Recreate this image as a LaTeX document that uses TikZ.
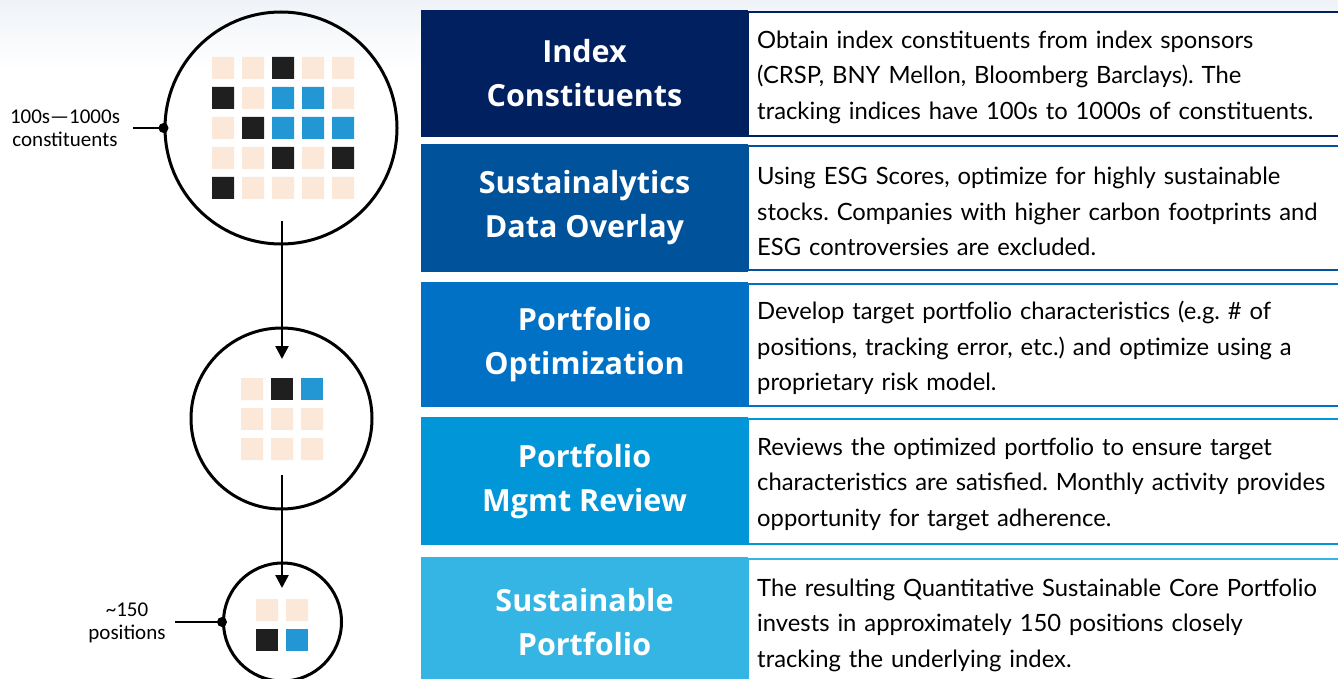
\documentclass[tikz,border=0pt]{standalone}
\usepackage{fontspec}
\setmainfont{Carlito}
\newfontfamily\descfont{Lato}
\newfontfamily\ttlfont{Open Sans}
\usetikzlibrary{arrows.meta}
\frenchspacing

\definecolor{stepA}{HTML}{002060}
\definecolor{stepB}{HTML}{00529B}
\definecolor{stepC}{HTML}{0071C5}
\definecolor{stepD}{HTML}{0096D8}
\definecolor{stepE}{HTML}{35B5E3}
\definecolor{sqlight}{HTML}{FBE8D8}
\definecolor{sqdark}{HTML}{1F1F1F}
\definecolor{sqblue}{HTML}{2397D4}
\definecolor{bgtop}{HTML}{EFF3F8}

\begin{document}
\begin{tikzpicture}[x=1pt,y=1pt,yscale=-1,xscale=1,
    ring/.style={circle,draw=black,line width=3pt,inner sep=0pt},
    flow/.style={line width=2.4pt,-{Triangle[length=13pt,width=13pt]}},
    lead/.style={line width=2.4pt},
    tagtext/.style={align=center,font=\fontsize{21}{23}\selectfont},
    ttlbox/.style={rectangle,inner sep=0pt,minimum width=327pt,text=white,align=center,font=\ttlfont\fontsize{30.5}{44}\bfseries\selectfont},
    descline/.style={fill=white,line width=2pt},
    desctext/.style={anchor=west,inner sep=0pt,text width=600pt,align=left,font=\descfont\fontsize{23.8}{35.5}\selectfont}]
        \useasboundingbox (0,0) rectangle (1338,679);
        \shade[top color=bgtop,bottom color=white] (0,0) rectangle (1338,70);

        %Shape: Circle
        \node[ring,minimum size=232pt] (big) at (281,128) {};
        \fill[sqlight] (212,57) rectangle +(22,22) (242,57) rectangle +(22,22) (302,57) rectangle +(22,22) (332,57) rectangle +(22,22)
            (242,87) rectangle +(22,22) (332,87) rectangle +(22,22) (212,117) rectangle +(22,22) (212,147) rectangle +(22,22)
            (242,147) rectangle +(22,22) (302,147) rectangle +(22,22) (242,177) rectangle +(22,22) (272,177) rectangle +(22,22)
            (302,177) rectangle +(22,22) (332,177) rectangle +(22,22);
        \fill[sqdark] (272,57) rectangle +(22,22) (212,87) rectangle +(22,22) (242,117) rectangle +(22,22)
            (272,147) rectangle +(22,22) (332,147) rectangle +(22,22) (212,177) rectangle +(22,22);
        \fill[sqblue] (272,87) rectangle +(22,22) (302,87) rectangle +(22,22) (272,117) rectangle +(22,22)
            (302,117) rectangle +(22,22) (332,117) rectangle +(22,22);

        %Shape: Circle
        \node[ring,minimum size=181pt] (mid) at (281.5,418.5) {};
        \fill[sqlight] (241,378) rectangle +(22,22) (241,408) rectangle +(22,22) (271,408) rectangle +(22,22) (301,408) rectangle +(22,22)
            (241,438) rectangle +(22,22) (271,438) rectangle +(22,22) (301,438) rectangle +(22,22);
        \fill[sqdark] (271,378) rectangle +(22,22);
        \fill[sqblue] (301,378) rectangle +(22,22);

        %Shape: Circle
        \node[ring,minimum size=118pt] (small) at (282.5,622) {};
        \fill[sqlight] (256,599) rectangle +(22,22) (286,599) rectangle +(22,22);
        \fill[sqdark] (256,629) rectangle +(22,22);
        \fill[sqblue] (286,629) rectangle +(22,22);

        %Straight Lines
        \coordinate (cutA) at (282,221);
        \coordinate (cutB) at (282,359);
        \coordinate (cutC) at (282,475);
        \coordinate (cutD) at (282,588);
        \draw[flow] (cutA) -- (cutB);
        \draw[flow] (cutC) -- (cutD);

        %Text
        \node[tagtext] (bigtag) at (65,128) {100s—1000s\\constituents};
        \coordinate (bigend) at (133,128);
        \draw[lead] (bigend) -- (big.west);
        \fill (big.west) circle (5);
        \node[tagtext] (smalltag) at (127,623) {\textasciitilde150\\positions};
        \coordinate (smallend) at (175,622);
        \draw[lead] (smallend) -- (small.west);
        \fill (small.west) circle (5);

        %Shape: Rectangle
        \node[ttlbox,fill=stepA,minimum height=127pt] (idxttl) at (584.5,73.5) {Index\\Constituents};
        \draw[descline,draw=stepA] (748,12) rectangle (1345,136);
        \node[desctext] (idxdesc) at (757,77) {Obtain index constituents from index sponsors\\(CRSP, BNY Mellon, Bloomberg Barclays). The\\tracking indices have 100s to 1000s of constituents.};

        \node[ttlbox,fill=stepB,minimum height=128pt] (esgttl) at (584.5,208) {Sustainalytics\\Data Overlay};
        \draw[descline,draw=stepB] (748,146) rectangle (1345,270);
        \node[desctext] (esgdesc) at (757,211.5) {Using ESG Scores, optimize for highly sustainable\\stocks. Companies with higher carbon footprints and\\ESG controversies are excluded.};

        \node[ttlbox,fill=stepC,minimum height=125pt] (optttl) at (584.5,344.5) {Portfolio\\Optimization};
        \draw[descline,draw=stepC] (748,284) rectangle (1345,406);
        \node[desctext] (optdesc) at (757,348) {Develop target portfolio characteristics (e.g. \# of\\positions, tracking error, etc.) and optimize using a\\proprietary risk model.};

        \node[ttlbox,fill=stepD,minimum height=128pt] (revttl) at (584.5,481) {Portfolio\\Mgmt Review};
        \draw[descline,draw=stepD] (748,419) rectangle (1345,544);
        \node[desctext] (revdesc) at (757,484) {Reviews the optimized portfolio to ensure target\\characteristics are satisfied. Monthly activity provides\\opportunity for target adherence.};

        \node[ttlbox,fill=stepE,minimum height=130pt] (susttl) at (584.5,622) {Sustainable\\Portfolio};
        \draw[descline,draw=stepE] (748,559) rectangle (1345,700);
        \node[desctext] (susdesc) at (757,625) {The resulting Quantitative Sustainable Core Portfolio\\invests in approximately 150 positions closely\\tracking the underlying index.};
\end{tikzpicture}
\end{document}
